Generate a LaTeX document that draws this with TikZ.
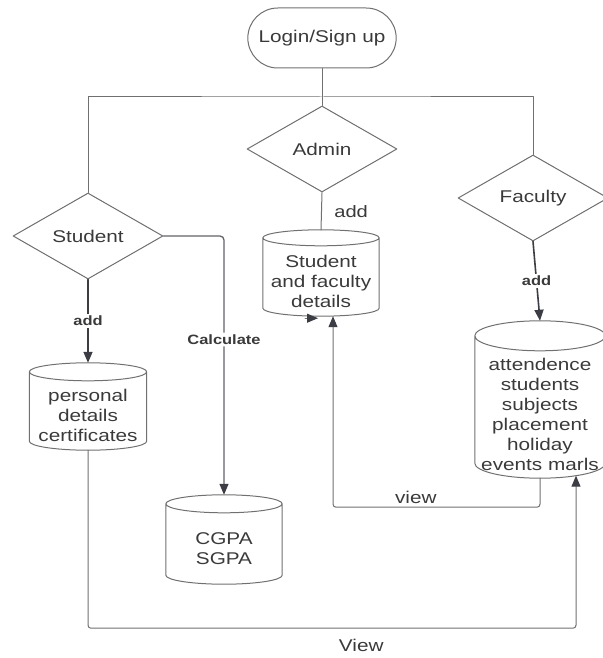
\documentclass[tikz,border=0pt]{standalone}
\usepackage{fontspec}
\setmainfont[FakeStretch=1.22]{Liberation Sans}
\usetikzlibrary{shapes.geometric,shapes.misc,arrows.meta,calc}
\definecolor{edgegray}{HTML}{707070}
\definecolor{inkgray}{HTML}{3A3A3A}
\definecolor{arrowgray}{HTML}{3C3C44}
% cylinder round a node: #1 node, #2 radius of its ends (pt)
\newcommand\dbcyl[2]{%
  \draw[edgegray, line width=1pt] let \p1=(#1.north west), \p2=(#1.south east), \n1={(\x2-\x1)/2} in
    (\x1,\y1+#2pt) -- (\x1,\y2+#2pt) arc[start angle=180, end angle=360, x radius=\n1, y radius=#2pt]
    -- (\x2,\y1+#2pt)
    (\x1+\n1,\y1+#2pt) ellipse[x radius=\n1, y radius=#2pt];}
\begin{document}
\begin{tikzpicture}[x=1pt,y=1pt,line join=round,line cap=round,
    >={Triangle[length=11pt,width=9pt,color=arrowgray]},
    font=\fontsize{17}{20}\selectfont, text=inkgray]
  \tikzset{
    startbox/.style={rounded rectangle, draw=edgegray, line width=1pt, minimum width=155pt, minimum height=60pt},
    decision/.style={diamond, draw=edgegray, line width=1pt, minimum width=150pt, minimum height=86pt, inner sep=0pt, aspect=1.75},
    store/.style={inner sep=0pt, align=center, minimum width=#1},
    link/.style={draw=edgegray, line width=1pt},
    addlink/.style={draw=arrowgray, line width=1.6pt, ->},
    tag/.style={font=\fontsize{13.5}{16}\selectfont\bfseries, fill=white, inner sep=2pt}
  }
  \useasboundingbox (0,0) rectangle (602,-658);

  \node[startbox] (login) at (322,-38) {Login/Sign up};
  \node[decision] (admin) at (322,-149) {Admin};
  \node[decision] (student) at (88,-236) {Student};
  \node[decision] (faculty) at (533,-198) {Faculty};

  \node[store=116pt, minimum height=70pt] (staff) at (321,-281) {Student\\and faculty\\details};
  \node[store=117pt, minimum height=69pt] (personal) at (88,-415.5) {personal\\details\\certificates};
  \node[store=116pt, minimum height=71pt] (grade) at (224,-548.5) {CGPA\\SGPA};
  \node[store=130pt, minimum height=127pt] (records) at (540,-414.5) {attendence\\students\\subjects\\placement\\holiday\\events marls};
  \dbcyl{staff}{8}
  \dbcyl{personal}{9}
  \dbcyl{grade}{9}
  \dbcyl{records}{15}

  \coordinate (split) at (login |- 0,-97);
  \coordinate (stub) at ($(staff.south)+(-16,-2)$);

  \draw[link] (login.south) -- (admin.north);
  \draw[link] (student.north) |- (split) -| (faculty.north);
  \draw[link] (admin.south) -- node[right=9pt, font=\fontsize{16.5}{20}\selectfont]{add} ($(staff.north)+(0,16)$);
  \draw[addlink] (student.south) -- node[tag]{add} ($(personal.north)+(0,18)$);
  \draw[link, draw=arrowgray!80, line width=1.3pt, ->, rounded corners=4pt] (student.east) -| node[tag, pos=0.7]{Calculate} ($(grade.north)+(0,18)$);
  \draw[addlink] (faculty.south) -- node[tag]{add} ($(records.north)+(0,30)$);
  \draw[link, ->, rounded corners=3pt] (records.south) -- ++(0,-29) -| node[pos=0.3, above]{view} ($(staff.south)+(12,0)$);
  \draw[link, ->, rounded corners=3pt] (personal.south) -- ++(0,-178) -| node[pos=0.28, below=7pt]{View} ($(records.south)+(36,2.5)$);
  \draw[link, ->] (stub) -- ++(13,0);
\end{tikzpicture}
\end{document}
